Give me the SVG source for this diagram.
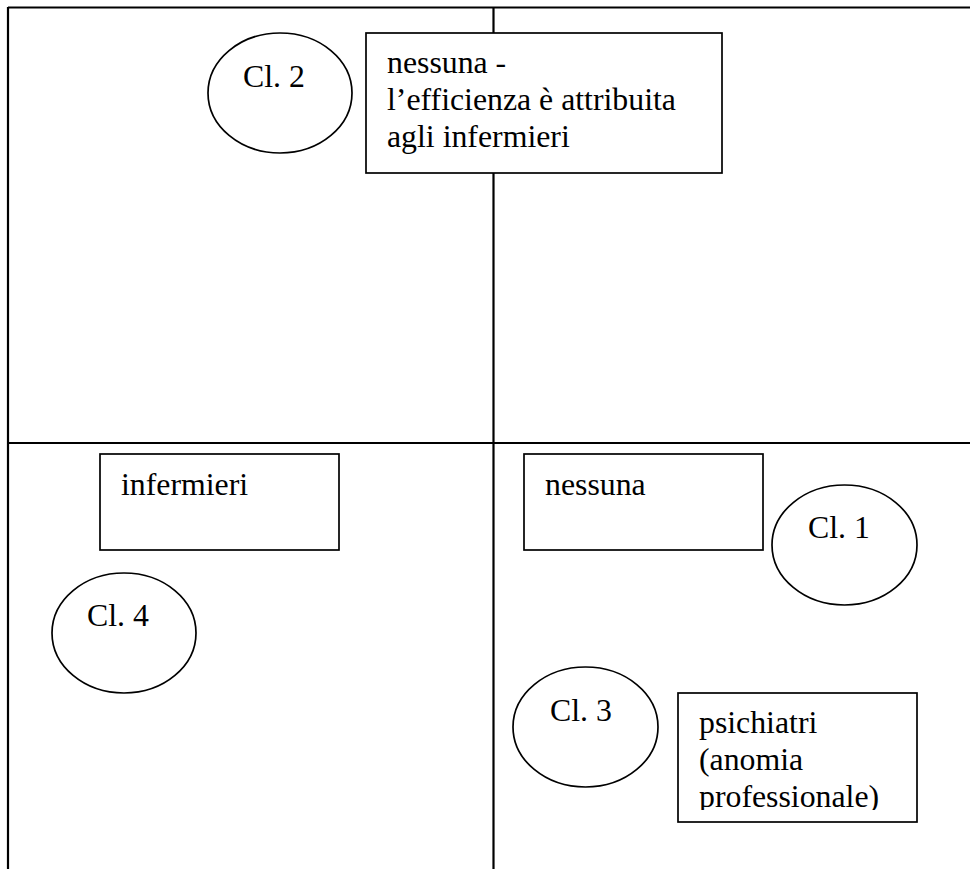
<svg xmlns="http://www.w3.org/2000/svg" width="970" height="869" viewBox="0 0 970 869">
<style>
.frame{stroke:#000;stroke-width:2.2;fill:none}
.box{stroke:#000;stroke-width:1.7;fill:#fff}
.ell{stroke:#000;stroke-width:1.7;fill:#fff}
.t{font-family:"Liberation Serif","Times New Roman",serif;font-size:31.8px;fill:#000}
</style>
<defs>
<clipPath id="clipPsi"><rect x="678" y="693" width="239" height="117"/></clipPath>
</defs>
<rect width="970" height="869" fill="#fff"/>
<g id="connectors">
<line class="frame" x1="8" y1="7.5" x2="970" y2="7.5"/>
<line class="frame" x1="8" y1="7" x2="8" y2="869"/>
<line class="frame" x1="493.5" y1="7" x2="493.5" y2="869"/>
<line class="frame" x1="8" y1="443" x2="970" y2="443"/>
</g>
<g id="cl2">
<ellipse class="ell" cx="280" cy="93" rx="72" ry="60"/>
<text class="t" x="243" y="87">Cl. 2</text>
</g>
<g id="box-top">
<rect class="box" x="366" y="33" width="356" height="140"/>
<text class="t" x="387" y="73">nessuna -</text>
<text class="t" x="387" y="110">l’efficienza è attribuita</text>
<text class="t" x="387" y="147">agli infermieri</text>
</g>
<g id="box-infermieri">
<rect class="box" x="100" y="454" width="239" height="96"/>
<text class="t" x="121" y="495">infermieri</text>
</g>
<g id="cl4">
<ellipse class="ell" cx="124" cy="633" rx="72" ry="60"/>
<text class="t" x="87" y="626">Cl. 4</text>
</g>
<g id="box-nessuna">
<rect class="box" x="524" y="454" width="239" height="96"/>
<text class="t" x="545" y="495">nessuna</text>
</g>
<g id="cl1">
<ellipse class="ell" cx="844.5" cy="545" rx="72.5" ry="60"/>
<text class="t" x="808" y="538">Cl. 1</text>
</g>
<g id="cl3">
<ellipse class="ell" cx="585.5" cy="727" rx="72.5" ry="60"/>
<text class="t" x="550" y="721">Cl. 3</text>
</g>
<g id="box-psichiatri">
<rect class="box" x="678" y="693" width="239" height="129"/>
<text class="t" x="699" y="733">psichiatri</text>
<text class="t" x="699" y="770">(anomia</text>
<text class="t" x="699" y="807" clip-path="url(#clipPsi)">professionale)</text>
</g>
</svg>
